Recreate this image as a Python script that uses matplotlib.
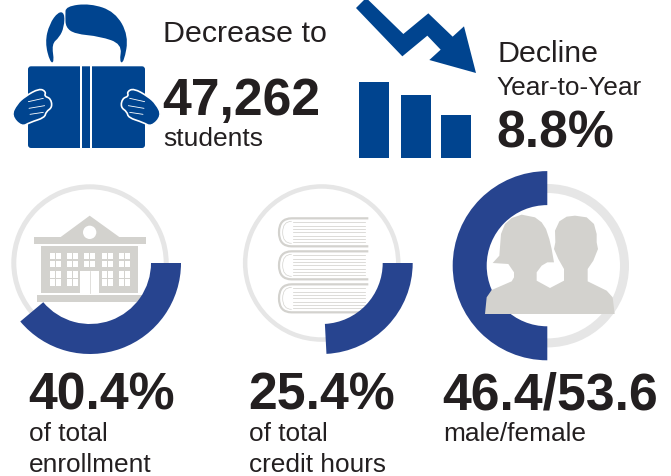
# -*- coding: utf-8 -*-
"""Enrollment infographic: headline numbers, small bars, three progress rings."""
import matplotlib
matplotlib.use("Agg")
import matplotlib.pyplot as plt
from matplotlib.patches import Wedge, Circle, Rectangle, FancyBboxPatch, PathPatch, Polygon
from matplotlib.path import Path

plt.rcParams["font.family"] = ["Liberation Sans", "DejaVu Sans"]

# ---- values ----
BAR_VALUES = [76, 63, 43]
ARC_SWEEPS = [140, 87, 180]            # drawn length of the blue arcs (deg)
ARC_LABELS = ["40.4%", "25.4%", "46.4/53.6"]
ARC_NOTES = ["of total\nenrollment", "of total\ncredit hours", "male/female"]

NAVY = "#00448f"
ARC_BLUE = "#27448f"
RING = "#e6e6e6"
ICON = "#d3d2ce"
INK = "#231f20"
W, H = 671, 477

fig = plt.figure(figsize=(W / 100, H / 100), dpi=100)
ax = fig.add_axes([0, 0, 1, 1])
ax.set_xlim(0, W)
ax.set_ylim(H, 0)                      # pixel coordinates, y going down
ax.axis("off")


def z(pts, ox=0, oy=0):
    """Zoomed crop coordinates (3x) back to picture pixels."""
    return [(ox + x / 3, oy + y / 3) for x, y in pts]


def smooth(pts, color, zorder=3, ec="none", lw=0):
    """Closed shape rounded through the midpoints of its control points."""
    mid = lambda a, b: ((a[0] + b[0]) / 2, (a[1] + b[1]) / 2)
    verts = [mid(pts[-1], pts[0])]
    codes = [Path.MOVETO]
    for i, p in enumerate(pts):
        verts += [p, mid(p, pts[(i + 1) % len(pts)])]
        codes += [Path.CURVE3, Path.CURVE3]
    ax.add_patch(PathPatch(Path(verts, codes), fc=color, ec=ec, lw=lw, zorder=zorder))


def poly(pts, color, zorder=3):
    ax.add_patch(Polygon(pts, closed=True, fc=color, ec="none", zorder=zorder))


def rect(x0, y0, x1, y1, color, zorder=3):
    ax.add_patch(Rectangle((x0, y0), x1 - x0, y1 - y0, fc=color, ec="none", zorder=zorder))


# ---- reader icon ----
smooth(z([(150, 190), (135, 130), (148, 75), (175, 38), (194, 42), (192, 85), (178, 115),
          (155, 135), (163, 190)]), NAVY)
smooth(z([(196, 50), (197, 22), (270, 13), (345, 38), (386, 110), (372, 190), (358, 190),
          (366, 135), (300, 112), (225, 105), (197, 85)]), NAVY)
ax.add_patch(FancyBboxPatch((31, 70.3), 111, 75.7, boxstyle="round,pad=3,rounding_size=3",
                            fc=NAVY, ec="none", zorder=3))
rect(80.4, 66, 82, 150, "white", zorder=4)
rect(90.2, 66, 92.3, 150, "white", zorder=4)

hand = [(33, 350), (50, 315), (75, 292), (118, 268), (138, 278), (133, 292), (152, 298),
        (157, 325), (138, 338), (134, 356), (90, 370), (65, 384)]
finger_lines = [[(85, 308), (130, 298)], [(87, 328), (134, 320)], [(90, 346), (130, 340)]]
for mirror in (False, True):
    flip = (lambda p: (519 - p[0], p[1])) if mirror else (lambda p: p)
    smooth(z([flip(p) for p in hand]), NAVY, zorder=5, ec="white", lw=1.2)
    for seg in finger_lines:
        (x0, y0), (x1, y1) = z([flip(p) for p in seg])
        ax.plot([x0, x1], [y0, y1], color="white", lw=0.6, zorder=6, solid_capstyle="round")

# ---- falling arrow ----
poly(z([(48, 27), (75, 0), (82, 0), (190, 105), (265, 43), (338, 113), (372, 82), (408, 222),
        (268, 183), (302, 152), (262, 110), (187, 172)], ox=340), NAVY)

# ---- small bars, in their own axes so the heights go through a scale ----
ax_bars = fig.add_axes([359 / W, 1 - 159 / H, 112 / W, 76 / H])
ax_bars.set_xlim(359, 471)
ax_bars.set_ylim(0, 76)
ax_bars.axis("off")
ax_bars.bar([374, 416, 456], BAR_VALUES, width=30, color=NAVY)

# ---- the three rings ----
CENTERS = [(90, 264), (321.7, 264), (547.3, 266.7)]
RING_R = [(78.7, 5), (78.8, 4.5), (81.7, 9)]
ARC_R = [(91, 30), (91, 30), (94.6, 34)]
ARC_START = [0, 0, 90]
LABEL_X = [28, 248, 442]

for c, (rr, rw), (ar, aw), start, sweep in zip(CENTERS, RING_R, ARC_R, ARC_START, ARC_SWEEPS):
    ax.add_patch(Wedge(c, rr, 0, 360, width=rw, fc=RING, ec="none", zorder=1))
    ax.add_patch(Wedge(c, ar, start, start + sweep, width=aw, fc=ARC_BLUE, ec="none", zorder=4))

for x, label, note in zip(LABEL_X, ARC_LABELS, ARC_NOTES):
    ax.text(x, 410, label, fontsize=37.3, fontweight="bold", color=INK, va="baseline")
    for i, line in enumerate(note.split("\n")):
        ax.text(x + 1, 441 + i * 31, line, fontsize=18.9, color=INK, va="baseline")

# ---- building icon ----
oy = 165
poly(z([(178, 222), (269, 155), (362, 222)], oy=oy), ICON, zorder=2)
ax.add_patch(Circle((269 / 3, oy + 205 / 3), 20 / 3, fc="white", ec="none", zorder=3))
rect(34, oy + 73, 145.7, oy + 80.3, ICON, zorder=2)
rect(41.3, oy + 82.3, 138, oy + 129, ICON, zorder=2)
rect(37.3, oy + 131, 142.3, oy + 137.7, ICON, zorder=2)
for wx in (150, 201, 253, 305, 357):
    for wy in (266, 322):
        if wx == 253 and wy == 322:
            continue
        for px in (wx, wx + 18):
            for py in (wy, wy + 24):
                rect(px / 3, oy + py / 3, (px + 15) / 3, oy + (py + 20) / 3, "white", zorder=3)
rect(241 / 3, oy + 322 / 3, 298 / 3, oy + 387 / 3, "white", zorder=3)
ax.plot([269.5 / 3] * 2, [oy + 322 / 3, oy + 387 / 3], color=ICON, lw=0.5, zorder=3)

# ---- stack of books icon ----
for top in (163, 262, 361):
    bot = top + 84
    spine = Path(z([(415, top), (185, top), (147, top), (147, top + 42), (147, bot), (185, bot),
                    (415, bot)], 230, 165),
                 [Path.MOVETO, Path.LINETO, Path.CURVE3, Path.CURVE3, Path.CURVE3, Path.CURVE3,
                  Path.LINETO])
    ax.add_patch(PathPatch(spine, fc="none", ec=ICON, lw=1.6, zorder=2))
    inner = Path(z([(185, top + 9), (158, top + 9), (158, top + 42), (158, bot - 9),
                    (185, bot - 9)], 230, 165),
                 [Path.MOVETO, Path.CURVE3, Path.CURVE3, Path.CURVE3, Path.CURVE3])
    ax.add_patch(PathPatch(inner, fc="none", ec=ICON, lw=0.5, zorder=2))
    for k in range(7):
        y = 165 + (top + 12 + k * 10) / 3
        ax.plot([230 + 188 / 3, 230 + 405 / 3], [y, y], color=ICON, lw=0.55, zorder=2)

# ---- couple silhouette ----
poly(z([(135, 450), (140, 400), (155, 378), (215, 352), (222, 340), (222, 325), (205, 300),
        (158, 297), (178, 275), (183, 210), (195, 180), (215, 162), (245, 152), (285, 160),
        (305, 175), (318, 195), (328, 225), (335, 255), (342, 295), (322, 295), (305, 305),
        (290, 325), (290, 350), (330, 372), (330, 450)], ox=440, oy=165), ICON, zorder=5)
poly(z([(300, 450), (330, 372), (372, 350), (372, 315), (355, 285), (342, 255), (346, 235),
        (345, 200), (358, 172), (380, 158), (405, 155), (440, 160), (462, 180), (470, 210),
        (470, 235), (474, 255), (460, 290), (443, 315), (443, 352), (500, 380), (518, 400),
        (524, 450)], ox=440, oy=165), ICON, zorder=5)

# ---- headline text ----
ax.text(163, 42.5, "Decrease to", fontsize=21.9, color=INK)
ax.text(162, 115, "47,262", fontsize=37.3, fontweight="bold", color=INK)
ax.text(163, 146.5, "students", fontsize=19, color=INK)
ax.text(497, 62.3, "Decline", fontsize=21.9, color=INK)
ax.text(496, 95, "Year-to-Year", fontsize=18.9, color=INK)
ax.text(496, 147.7, "8.8%", fontsize=37.3, fontweight="bold", color=INK)

fig.savefig("out.png", dpi=100)
